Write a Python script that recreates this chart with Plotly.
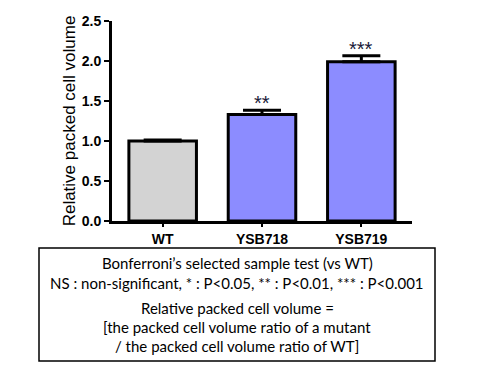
import plotly.graph_objects as go

categories = ["WT", "YSB718", "YSB719"]
values = [1.0, 1.33, 1.99]
errors = [0.012, 0.055, 0.075]
stars = ["", "**", "***"]
colors = ["#D3D3D3", "#8C8CFF", "#8C8CFF"]
y_ticks = [0.0, 0.5, 1.0, 1.5, 2.0, 2.5]

# the page body has an 8px default margin; compensate so the plot lands where intended
OFF = 8
L, T, R, B = 112 - OFF, 21 - OFF, 68 + OFF, 149 + OFF

fig = go.Figure()
fig.add_trace(go.Bar(
    x=categories, y=values, width=0.68,
    marker=dict(color=colors, line=dict(color="black", width=3)),
    error_y=dict(type="data", symmetric=False, array=errors,
                 arrayminus=[0, 0, 0], color="black", thickness=3, width=19),
))

for c, v, e, s in zip(categories, values, errors, stars):
    if s:
        fig.add_annotation(x=c, y=v + e, text=s, showarrow=False,
                           yanchor="middle", yshift=7,
                           font=dict(family="Arial", size=20, color="#1a1a3a"))

def px_x(p):
    return (p - 112) / 300.0

def px_y(p):
    return (221 - p) / 200.0

fig.add_shape(type="rect", xref="paper", yref="paper",
              x0=px_x(39), x1=px_x(435), y0=px_y(361), y1=px_y(248),
              line=dict(color="black", width=1.5), fillcolor="white")

note_lines = [
    ("Bonferroni\u2019s selected sample test (vs WT)", 263),
    ("NS : non-significant, * : P<0.05, ** : P<0.01, *** : P<0.001", 283),
    ("Relative packed cell volume =", 308),
    ("[the packed cell volume ratio of a mutant", 327),
    ("/ the packed cell volume ratio of WT]", 346),
]
for txt, yp in note_lines:
    fig.add_annotation(xref="paper", yref="paper", x=px_x(237), y=px_y(yp),
                       text=txt, showarrow=False, xanchor="center", yanchor="middle",
                       font=dict(family="Lato", size=15, color="black"))

fig.update_layout(
    width=480, height=370,
    margin=dict(l=L, r=R, t=T, b=B, autoexpand=False),
    paper_bgcolor="white", plot_bgcolor="white",
    showlegend=False,
    xaxis=dict(range=[-0.51, 2.51], showline=True, linecolor="black", linewidth=3,
               ticks="outside", ticklen=3, tickwidth=1.5, tickcolor="black",
               tickfont=dict(family="Arial", size=14, color="black", weight="bold"),
               showgrid=False, zeroline=False),
    yaxis=dict(range=[0, 2.5], tickvals=y_ticks, ticktext=[f"{t:.1f}" for t in y_ticks],
               showline=True, linecolor="black", linewidth=3,
               ticks="outside", ticklen=5, tickwidth=2, tickcolor="black",
               tickfont=dict(family="Arial", size=14, color="black", weight="bold"),
               title=dict(text="Relative packed cell volume",
                          font=dict(family="Arial", size=17, color="black"), standoff=2),
               showgrid=False, zeroline=False),
)

fig.write_html("out.html")
